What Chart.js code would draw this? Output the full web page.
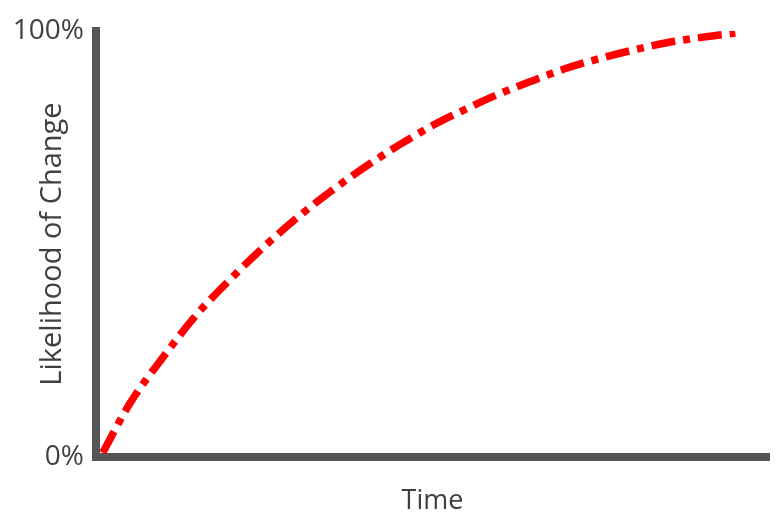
<!DOCTYPE html>
<html>
<head>
<meta charset="utf-8">
<script src="https://cdn.jsdelivr.net/npm/chart.js@4"></script>
<style>
  html,body{margin:0;padding:0;background:#fff;}
  #wrap{width:782px;height:530px;}
</style>
</head>
<body>
<div id="wrap"><canvas id="chart"></canvas></div>
<script>
// Data (time is unitless, likelihood in %)
const timePoints = [1, 5, 10, 15, 20, 25, 30, 35, 40, 45, 50, 55, 60, 65, 70, 75, 80, 85, 90, 95];
const likelihood = [1, 12.5, 23.5, 33.5, 41.8, 49.4, 56.3, 62.5, 68.1, 73.2, 77.8, 81.7, 85.3, 88.4, 91.3, 93.6, 95.6, 97.3, 98.5, 99.5];
const yTicks = [0, 100];

const axisColor='#555555', textColor='#404040';
const fontFamily='"Open Sans", "Noto Sans", sans-serif';

const points = timePoints.map((t,i)=>({x:t, y:likelihood[i]}));

new Chart(document.getElementById('chart'), {
  type:'line',
  data:{ datasets:[{
    data:points,
    borderColor:'#ff0000',
    borderWidth:7.5,
    borderDash:[24,8,7,8],
    borderCapStyle:'butt',
    pointRadius:0,
    cubicInterpolationMode:'monotone',
    fill:false
  }]},
  options:{
    responsive:true, maintainAspectRatio:false, animation:false,
    layout:{padding:{top:31, right:13, left:0, bottom:0}},
    plugins:{legend:{display:false}, tooltip:{enabled:false}},
    scales:{
      x:{
        type:'linear', min:0, max:100,
        grid:{display:false, drawTicks:false},
        border:{display:true, color:axisColor, width:8},
        ticks:{display:false},
        title:{display:true, text:'Time', color:textColor, font:{family:fontFamily, size:27}, padding:{top:0, bottom:12}},
        afterFit(s){ s.height=73; }
      },
      y:{
        type:'linear', min:0, max:100,
        grid:{display:false, drawTicks:false},
        border:{display:true, color:axisColor, width:8},
        afterBuildTicks(s){ s.ticks=yTicks.map(v=>({value:v})); },
        ticks:{color:textColor, padding:12, font:{family:fontFamily, size:28}, callback:v=>v+'%'},
        title:{display:true, text:'Likelihood of Change', color:textColor, font:{family:fontFamily, size:29}, padding:{top:35, bottom:0}},
        afterFit(s){ s.width=96; }
      }
    }
  }
});
</script>
</body>
</html>
